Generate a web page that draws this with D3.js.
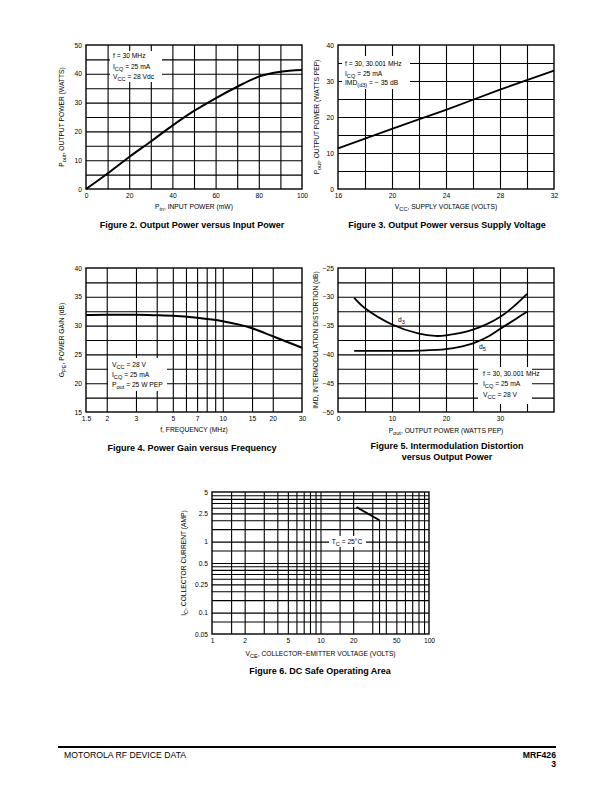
<!DOCTYPE html>
<html><head><meta charset="utf-8">
<script src="https://cdn.jsdelivr.net/npm/d3@7"></script>
<style>body{margin:0;background:#fff} text{font-family:"Liberation Sans",Arial,Helvetica,sans-serif;fill:#000}</style>
</head><body><svg id="c" width="612" height="792"></svg>
<script>
// ---------- DATA ----------
// Figure 2: Output power vs input power
const fig2PinMW = [0, 10, 20, 30, 40, 50, 60, 70, 80, 90, 100];
const fig2PoutW = [0, 5.4, 11.1, 16.5, 22, 27.1, 31.5, 35.5, 39, 40.7, 41.3];
const fig2XTicks = [0, 20, 40, 60, 80, 100];
const fig2XGrid = [10, 20, 30, 40, 50, 60, 70, 80, 90];
const fig2YTicks = [0, 10, 20, 30, 40, 50];
const fig2YGrid = [5, 10, 15, 20, 25, 30, 35, 40, 45];
// Figure 3: Output power vs supply voltage
const fig3Vcc = [16, 20, 24, 28, 32];
const fig3PoutW = [11.3, 16.7, 22, 27.6, 32.9];
const fig3XTicks = [16, 20, 24, 28, 32];
const fig3XGrid = [18, 20, 22, 24, 26, 28, 30];
const fig3YTicks = [0, 10, 20, 30, 40];
const fig3YGrid = [5, 10, 15, 20, 25, 30, 35];
// Figure 4: Power gain vs frequency
const fig4FreqMHz = [1.5, 2, 3, 4, 5, 7, 10, 15, 20, 30];
const fig4GainDB = [31.85, 31.88, 31.88, 31.8, 31.7, 31.35, 30.75, 29.55, 28.15, 26.15];
const fig4XTicks = [1.5, 2, 3, 5, 7, 10, 15, 20, 30];
const fig4XGrid = [2, 3, 4, 5, 6, 7, 8, 9, 10, 15, 20];
const fig4YTicks = [15, 20, 25, 30, 35, 40];
const fig4YGrid = [17.5, 20, 22.5, 25, 27.5, 30, 32.5, 35, 37.5];
// Figure 5: IMD vs output power
const fig5PoutD3 = [3, 5, 10, 15, 18, 20, 25, 30, 33, 35];
const fig5ImdD3 = [-30.2, -32, -34.8, -36.4, -36.8, -36.7, -35.7, -33.5, -31.3, -29.5];
const fig5PoutD5 = [3, 10, 15, 20, 23, 25, 28, 30, 33, 35];
const fig5ImdD5 = [-39.4, -39.4, -39.35, -39.1, -38.6, -38.1, -36.8, -35.6, -33.8, -32.6];
const fig5XTicks = [0, 10, 20, 30];
const fig5XGrid = [5, 10, 15, 20, 25, 30, 35];
const fig5YTicks = [-50, -45, -40, -35, -30, -25];
const fig5YGrid = [-47.5, -45, -42.5, -40, -37.5, -35, -32.5, -30, -27.5];
// Figure 6: DC safe operating area
const fig6VceV = [21.5, 35, 35];
const fig6IcA = [3.05, 2.0, 0.05];
const fig6XTicks = [1, 2, 5, 10, 20, 50, 100];
const fig6XGrid = [1.5, 2, 3, 4, 5, 6, 7, 8, 9, 10, 15, 20, 30, 40, 50, 60, 70, 80, 90];
const fig6YTicks = [0.05, 0.1, 0.25, 0.5, 1, 2.5, 5];
const fig6YGrid = [0.075, 0.1, 0.15, 0.2, 0.25, 0.3, 0.35, 0.4, 0.45, 0.5, 0.75, 1, 1.5, 2, 2.5, 3, 3.5, 4, 4.5];

// ---------- HELPERS ----------
const svg = d3.select('#c');
svg.append('rect').attr('width', 612).attr('height', 792).attr('fill', '#fff');
const FS = 6.7;
const SUB = 0.84;

function richText(g, x, y, parts, opts = {}) {
  const fs = opts.fs || FS;
  const t = g.append('text').attr('x', x).attr('y', y).attr('font-size', fs)
    .attr('text-anchor', opts.anchor || 'start');
  if (opts.weight) t.attr('font-weight', opts.weight);
  if (opts.rotate) t.attr('transform', `rotate(-90,${x},${y})`);
  let down = false;
  parts.forEach(p => {
    if (typeof p === 'string') {
      const s = t.append('tspan').text(p);
      if (down) { s.attr('dy', -2); down = false; }
    } else {
      t.append('tspan').attr('font-size', fs * SUB).attr('dy', 2).text(p.sub);
      down = true;
    }
  });
  return t;
}

function panel(cfg) {
  const g = svg.append('g');
  const x = cfg.xScale.range([cfg.x0, cfg.x1]);
  const y = cfg.yScale.range([cfg.y1, cfg.y0]);
  const w = cfg.x1 - cfg.x0, h = cfg.y1 - cfg.y0;
  const gx = g.append('g').attr('transform', `translate(0,${cfg.y1})`)
    .call(d3.axisBottom(x).tickValues(cfg.xGrid).tickSize(-h).tickFormat(''));
  const gy = g.append('g').attr('transform', `translate(${cfg.x0},0)`)
    .call(d3.axisLeft(y).tickValues(cfg.yGrid).tickSize(-w).tickFormat(''));
  [gx, gy].forEach(a => {
    a.select('.domain').remove();
    a.selectAll('line').attr('stroke', '#000').attr('stroke-width', 1.1);
  });
  (cfg.boxes || []).forEach(b => {
    g.append('rect').attr('x', b[0]).attr('y', b[1]).attr('width', b[2] - b[0])
      .attr('height', b[3] - b[1]).attr('fill', '#fff');
  });
  g.append('rect').attr('x', cfg.x0).attr('y', cfg.y0).attr('width', w).attr('height', h)
    .attr('fill', 'none').attr('stroke', '#000').attr('stroke-width', 1.4);
  const lx = g.append('g').attr('transform', `translate(0,${cfg.y1})`)
    .call(d3.axisBottom(x).tickValues(cfg.xTicks).tickSize(0).tickPadding(4)
      .tickFormat(cfg.xFmt || (d => String(d))));
  const ly = g.append('g').attr('transform', `translate(${cfg.x0},0)`)
    .call(d3.axisLeft(y).tickValues(cfg.yTicks).tickSize(0).tickPadding(4)
      .tickFormat(cfg.yFmt || (d => String(d))));
  [lx, ly].forEach(a => {
    a.select('.domain').remove();
    a.selectAll('text').attr('font-size', FS)
      .attr('font-family', '"Liberation Sans",Arial,Helvetica,sans-serif');
  });
  (cfg.series || []).forEach(s => {
    const pts = s.xs.map((v, i) => [v, s.ys[i]]);
    g.append('path').attr('d', d3.line().x(d => x(d[0])).y(d => y(d[1]))
      .curve(s.curve || d3.curveCatmullRom.alpha(0.5))(pts))
      .attr('fill', 'none').attr('stroke', '#000').attr('stroke-width', s.sw || 2)
      .attr('stroke-linejoin', 'round');
  });
  const cx = (cfg.x0 + cfg.x1) / 2;
  richText(g, cfg.xTitleX || cx, cfg.xTitleY, cfg.xTitle, { anchor: 'middle' });
  richText(g, cfg.yTitleX, cfg.yTitleY || (cfg.y0 + cfg.y1) / 2, cfg.yTitle, { anchor: 'middle', rotate: true });
  cfg.caption.forEach((c, i) => {
    g.append('text').attr('x', cfg.capX).attr('y', cfg.capY + i * 10.5).attr('text-anchor', 'middle')
      .attr('font-size', 9).attr('font-weight', 'bold').text(c);
  });
  (cfg.legend || []).forEach(l => richText(g, l.x, l.y, l.parts, { anchor: l.anchor || 'start' }));
  return { g, x, y };
}

// ---------- FIGURE 2 ----------
panel({
  x0: 86, x1: 302, y0: 45, y1: 189,
  xScale: d3.scaleLinear().domain([0, 100]), yScale: d3.scaleLinear().domain([0, 50]),
  xGrid: fig2XGrid, yGrid: fig2YGrid, xTicks: fig2XTicks, yTicks: fig2YTicks,
  boxes: [[110, 51, 162, 82]],
  series: [{ xs: fig2PinMW, ys: fig2PoutW, curve: d3.curveMonotoneX }],
  xTitle: ['P', { sub: 'in' }, ', INPUT POWER (mW)'], xTitleY: 209,
  yTitle: ['P', { sub: 'out' }, ', OUTPUT POWER (WATTS)'], yTitleX: 64,
  caption: ['Figure 2. Output Power versus Input Power'], capX: 192, capY: 228,
  legend: [
    { x: 113, y: 58, parts: ['f = 30 MHz'] },
    { x: 113, y: 68.5, parts: ['I', { sub: 'CQ' }, ' = 25 mA'] },
    { x: 113, y: 79, parts: ['V', { sub: 'CC' }, ' = 28 Vdc'] }
  ]
});

// ---------- FIGURE 3 ----------
panel({
  x0: 338, x1: 554, y0: 45, y1: 189,
  xScale: d3.scaleLinear().domain([16, 32]), yScale: d3.scaleLinear().domain([0, 40]),
  xGrid: fig3XGrid, yGrid: fig3YGrid, xTicks: fig3XTicks, yTicks: fig3YTicks,
  boxes: [[342, 56, 410, 89]],
  series: [{ xs: fig3Vcc, ys: fig3PoutW, curve: d3.curveMonotoneX, sw: 1.8 }],
  xTitle: ['V', { sub: 'CC' }, ', SUPPLY VOLTAGE (VOLTS)'], xTitleY: 209,
  yTitle: ['P', { sub: 'out' }, ', OUTPUT POWER (WATTS PEP)'], yTitleX: 319,
  caption: ['Figure 3. Output Power versus Supply Voltage'], capX: 447, capY: 228,
  legend: [
    { x: 345, y: 65.5, parts: ['f = 30, 30.001 MHz'] },
    { x: 345, y: 75.5, parts: ['I', { sub: 'CQ' }, ' = 25 mA'] },
    { x: 345, y: 85, parts: ['IMD', { sub: '(d3)' }, ' = − 35 dB'] }
  ]
});

// ---------- FIGURE 4 ----------
panel({
  x0: 86, x1: 302, y0: 268, y1: 412,
  xScale: d3.scaleLog().domain([1.5, 30]), yScale: d3.scaleLinear().domain([15, 40]),
  xGrid: fig4XGrid, yGrid: fig4YGrid, xTicks: fig4XTicks, yTicks: fig4YTicks,
  boxes: [[108, 358, 167, 391]],
  series: [{ xs: fig4FreqMHz, ys: fig4GainDB, curve: d3.curveMonotoneX }],
  xTitle: ['f, FREQUENCY (MHz)'], xTitleY: 432,
  yTitle: ['G', { sub: 'PE' }, ', POWER GAIN (dB)'], yTitleX: 64,
  caption: ['Figure 4. Power Gain versus Frequency'], capX: 192, capY: 451,
  legend: [
    { x: 112, y: 366.5, parts: ['V', { sub: 'CC' }, ' = 28 V'] },
    { x: 112, y: 376.5, parts: ['I', { sub: 'CQ' }, ' = 25 mA'] },
    { x: 112, y: 386.5, parts: ['P', { sub: 'out' }, ' = 25 W PEP'] }
  ]
});

// ---------- FIGURE 5 ----------
panel({
  x0: 338, x1: 554, y0: 268, y1: 412,
  xScale: d3.scaleLinear().domain([0, 40]), yScale: d3.scaleLinear().domain([-50, -25]),
  xGrid: fig5XGrid, yGrid: fig5YGrid, xTicks: fig5XTicks, yTicks: fig5YTicks,
  yFmt: d => (d < 0 ? '\u2212' + Math.abs(d) : String(d)),
  boxes: [[478, 367, 532, 404]],
  series: [{ xs: fig5PoutD3, ys: fig5ImdD3, sw: 1.8 }, { xs: fig5PoutD5, ys: fig5ImdD5, sw: 1.8 }],
  xTitle: ['P', { sub: 'out' }, ', OUTPUT POWER (WATTS PEP)'], xTitleY: 433,
  yTitle: ['IMD, INTERMODULATION DISTORTION (dB)'], yTitleX: 318,
  caption: ['Figure 5. Intermodulation Distortion', 'versus Output Power'], capX: 447, capY: 449,
  legend: [
    { x: 483, y: 375.5, parts: ['f = 30, 30.001 MHz'] },
    { x: 483, y: 386, parts: ['I', { sub: 'CQ' }, ' = 25 mA'] },
    { x: 483, y: 396.5, parts: ['V', { sub: 'CC' }, ' = 28 V'] },
    { x: 398, y: 321.5, parts: ['d', { sub: '3' }] },
    { x: 479, y: 348.5, parts: ['d', { sub: '5' }] }
  ]
});

// ---------- FIGURE 6 ----------
const p6 = panel({
  x0: 212, x1: 429, y0: 492, y1: 634,
  xScale: d3.scaleLog().domain([1, 100]), yScale: d3.scaleLog().domain([0.05, 5]),
  xGrid: fig6XGrid, yGrid: fig6YGrid, xTicks: fig6XTicks, yTicks: fig6YTicks,
  boxes: [[329, 536, 366, 547]],
  series: [],
  xTitle: ['V', { sub: 'CE' }, ', COLLECTOR\u2212EMITTER VOLTAGE (VOLTS)'], xTitleY: 656,
  yTitle: ['I', { sub: 'C' }, ', COLLECTOR CURRENT (AMP)'], yTitleX: 186,
  caption: ['Figure 6. DC Safe Operating Area'], capX: 320, capY: 674,
  legend: [{ x: 347, y: 543.5, anchor: 'middle', parts: ['T', { sub: 'C' }, ' = 25°C'] }]
});
p6.g.append('path')
  .attr('d', d3.line().x(d => p6.x(d[0])).y(d => p6.y(d[1]))([[fig6VceV[0], fig6IcA[0]], [fig6VceV[1], fig6IcA[1]]]))
  .attr('stroke', '#000').attr('stroke-width', 2).attr('fill', 'none');
p6.g.append('path')
  .attr('d', d3.line().x(d => p6.x(d[0])).y(d => p6.y(d[1]))([[fig6VceV[1], fig6IcA[1]], [fig6VceV[2], fig6IcA[2]]]))
  .attr('stroke', '#000').attr('stroke-width', 1.1).attr('fill', 'none');

// ---------- FOOTER ----------
svg.append('line').attr('x1', 58).attr('x2', 556).attr('y1', 747).attr('y2', 747)
  .attr('stroke', '#000').attr('stroke-width', 2);
svg.append('text').attr('x', 64).attr('y', 758).attr('font-size', 8.7).text('MOTOROLA RF DEVICE DATA');
svg.append('text').attr('x', 556).attr('y', 758).attr('font-size', 8.7).attr('font-weight', 'bold')
  .attr('text-anchor', 'end').text('MRF426');
svg.append('text').attr('x', 556).attr('y', 767).attr('font-size', 8.7).attr('font-weight', 'bold')
  .attr('text-anchor', 'end').text('3');
</script></body></html>
